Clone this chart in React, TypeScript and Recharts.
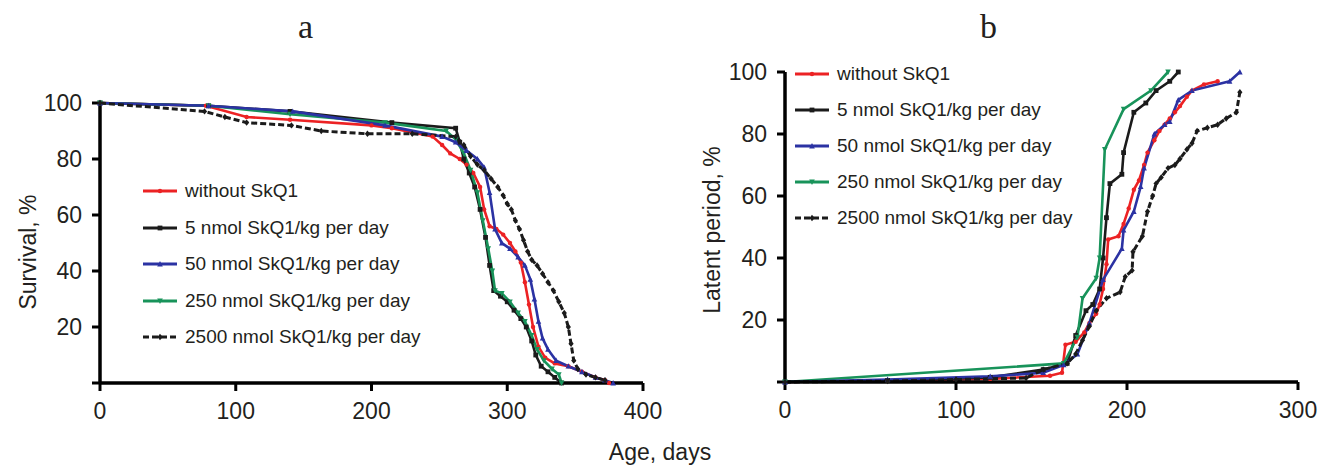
import { LineChart, Line, XAxis, YAxis } from 'recharts';

const RED = '#ec2224';
const BLACK = '#1b1b1b';
const BLUE = '#2b32a3';
const GREEN = '#18935a';
const TEXT = '#231f20';

const legendNames = [
  'without SkQ1',
  '5 nmol SkQ1/kg per day',
  '50 nmol SkQ1/kg per day',
  '250 nmol SkQ1/kg per day',
  '2500 nmol SkQ1/kg per day',
];

// panel a: survival, % vs age, days
const ctrlAge = [0, 78, 108, 140, 200, 215, 245, 252, 258, 265, 270, 275, 280, 283, 287, 292, 297, 302, 306, 310, 313, 316, 319, 323, 328, 335, 345, 355, 365, 372, 375];
const ctrlSurv = [100, 99, 95, 94, 92, 91, 88, 85, 82, 80, 78, 75, 70, 62, 56, 55, 53, 50, 47, 43, 36, 28, 20, 13, 9, 7, 6, 4, 2, 1, 0];
const d5Age = [0, 80, 140, 215, 262, 265, 268, 272, 276, 280, 284, 287, 290, 295, 300, 305, 310, 314, 318, 321, 325, 330, 335, 340];
const d5Surv = [100, 99, 97, 93, 91, 86, 80, 75, 70, 62, 52, 42, 33, 31, 29, 26, 23, 20, 15, 10, 6, 4, 2, 0];
const d50Age = [0, 80, 142, 210, 252, 262, 270, 278, 283, 287, 291, 296, 302, 308, 313, 317, 320, 323, 326, 330, 336, 345, 355, 365, 372, 378];
const d50Surv = [100, 99, 97, 92, 88, 86, 83, 80, 77, 68, 55, 50, 48, 45, 42, 37, 30, 22, 16, 12, 8, 6, 4, 2, 1, 0];
const d250Age = [0, 80, 140, 210, 255, 262, 268, 273, 278, 282, 286, 289, 291, 296, 302, 308, 313, 318, 322, 327, 333, 338, 340];
const d250Surv = [100, 99, 96, 93, 90, 87, 82, 76, 68, 58, 48, 40, 33, 32, 29, 25, 22, 17, 12, 8, 5, 3, 0];
const d2500Age = [0, 77, 92, 108, 141, 163, 197, 230, 262, 268, 273, 278, 283, 288, 293, 297, 300, 303, 306, 309, 312, 315, 318, 322, 326, 330, 334, 338, 342, 345, 347, 349, 352, 358, 365, 372];
const d2500Surv = [100, 97, 95, 93, 92, 90, 89, 89, 88, 85, 81, 78, 76, 73, 70, 67, 64, 62, 58, 55, 51, 47, 44, 42, 39, 36, 33, 29, 25, 20, 14, 8, 5, 3, 2, 1];

// panel b: latent period, % vs days
const ctrlDay = [0, 60, 120, 155, 162, 164, 170, 175, 178, 182, 184, 186, 188, 189, 195, 198, 201, 204, 207, 210, 212, 216, 219, 222, 225, 228, 231, 235, 238, 245, 253];
const ctrlLat = [0, 0.5, 1, 2, 3, 12, 13, 16, 19, 22, 25, 30, 38, 46, 47, 51, 56, 62, 65, 70, 74, 78, 81, 83, 85, 87, 89, 92, 94, 96, 97];
const l5Day = [0, 60, 120, 151, 165, 170, 176, 180, 184, 186, 188, 190, 197, 198, 204, 211, 217, 225, 230];
const l5Lat = [0, 0.5, 1.5, 4, 6, 15, 23, 25, 30, 40, 53, 64, 67, 74, 87, 90, 94, 97, 100];
const l50Day = [0, 60, 120, 151, 163, 171, 178, 186, 197, 198, 204, 208, 210, 216, 222, 225, 230, 238, 260, 266];
const l50Lat = [0, 0.8, 1.8, 3, 5.5, 9, 19, 33, 43, 49, 55, 63, 69, 80, 83, 84, 91, 94, 97, 100];
const l250Day = [0, 163, 171, 174, 182, 184, 187, 198, 214, 224];
const l250Lat = [0, 6, 14.5, 27, 33.5, 40, 75, 88, 94, 100];
const l2500Day = [0, 60, 100, 141, 151, 165, 170, 174, 178, 182, 188, 196, 199, 203, 203.5, 209, 212, 215, 217, 220, 224, 228, 231, 235, 238, 241, 247, 253, 258, 264, 266];
const l2500Lat = [0, 0.3, 0.8, 1.3, 4, 6, 9, 13.5, 18, 23, 27, 29, 34, 36, 42, 47, 55, 60, 64, 66, 69, 70, 72, 75, 77, 81, 82, 83, 85, 87, 93.5];

const toPts = (xs: number[], ys: number[]) => xs.map((x, i) => ({ x, y: ys[i] }));

type Shape = 'circle' | 'square' | 'up' | 'down' | 'diamond';

const STYLES: { color: string; shape: Shape; dash?: string; width: number }[] = [
  { color: RED, shape: 'circle', width: 2.6 },
  { color: BLACK, shape: 'square', width: 2.6 },
  { color: BLUE, shape: 'up', width: 2.6 },
  { color: GREEN, shape: 'down', width: 2.6 },
  { color: BLACK, shape: 'diamond', dash: '6 3', width: 3 },
];

const survData = [toPts(ctrlAge, ctrlSurv), toPts(d5Age, d5Surv), toPts(d50Age, d50Surv), toPts(d250Age, d250Surv), toPts(d2500Age, d2500Surv)];
const latData = [toPts(ctrlDay, ctrlLat), toPts(l5Day, l5Lat), toPts(l50Day, l50Lat), toPts(l250Day, l250Lat), toPts(l2500Day, l2500Lat)];
const drawOrder = [0, 1, 3, 2, 4];

const Marker = ({ cx, cy, shape, color }: { cx: number; cy: number; shape: Shape; color: string }) => {
  if (cx == null || cy == null) return <g />;
  const s = 2.4;
  if (shape === 'square') return <rect x={cx - s} y={cy - s} width={s * 2} height={s * 2} fill={color} />;
  if (shape === 'up') return <polygon points={`${cx},${cy - s - 0.6} ${cx - s - 0.4},${cy + s} ${cx + s + 0.4},${cy + s}`} fill={color} />;
  if (shape === 'down') return <polygon points={`${cx},${cy + s + 0.6} ${cx - s - 0.4},${cy - s} ${cx + s + 0.4},${cy - s}`} fill={color} />;
  if (shape === 'diamond') return <polygon points={`${cx},${cy - s - 0.8} ${cx + s + 0.2},${cy} ${cx},${cy + s + 0.8} ${cx - s - 0.2},${cy}`} fill={color} />;
  return <circle cx={cx} cy={cy} r={2.2} fill={color} />;
};

const tickStyle = { fontFamily: 'Liberation Sans, Arial, sans-serif', fontSize: 23, fill: TEXT };
const axisLine = { stroke: '#000', strokeWidth: 3.5 };
const tickLine = { stroke: '#000', strokeWidth: 3 };
const yFmt = (v: number) => (v === 0 ? '' : String(v));

const Panel = ({ data, xMax, xTicks, width, margin }: { data: { x: number; y: number }[][]; xMax: number; xTicks: number[]; width: number; margin: { top: number; right: number; left: number; bottom: number } }) => (
  <LineChart width={width} height={467} margin={margin}>
    <XAxis type="number" dataKey="x" domain={[0, xMax]} ticks={xTicks} height={30} tick={tickStyle} tickSize={8} tickMargin={12} axisLine={axisLine} tickLine={tickLine} allowDuplicatedCategory={false} />
    <YAxis type="number" domain={[0, 100]} ticks={[0, 20, 40, 60, 80, 100]} width={60} tick={tickStyle} tickSize={8} tickMargin={10} tickFormatter={yFmt} axisLine={axisLine} tickLine={tickLine} />
    {drawOrder.map((i) => {
      const st = STYLES[i];
      return (
        <Line
          key={i}
          data={data[i]}
          dataKey="y"
          type="linear"
          stroke={st.color}
          strokeWidth={st.width}
          strokeDasharray={st.dash}
          isAnimationActive={false}
          dot={(p: any) => <Marker key={`${i}-${p.index}`} cx={p.cx} cy={p.cy} shape={st.shape} color={st.color} />}
          activeDot={false}
        />
      );
    })}
  </LineChart>
);

const LegendBox = ({ left, top, gap }: { left: number; top: number; gap: number }) => (
  <div style={{ position: 'absolute', left, top }}>
    {legendNames.map((name, i) => {
      const st = STYLES[i];
      return (
        <div key={name} style={{ position: 'absolute', top: i * gap - 12, left: 0, display: 'flex', alignItems: 'center', whiteSpace: 'nowrap', height: 24 }}>
          <svg width={36} height={10}>
            <line x1={1} y1={5} x2={35} y2={5} stroke={st.color} strokeWidth={3} strokeDasharray={st.dash} />
            <Marker cx={18} cy={5} shape={st.shape} color={st.color} />
          </svg>
          <span style={{ marginLeft: 7, fontFamily: 'Liberation Sans, Arial, sans-serif', fontSize: 19, color: TEXT }}>{name}</span>
        </div>
      );
    })}
  </div>
);

const label = { position: 'absolute' as const, fontFamily: 'Liberation Sans, Arial, sans-serif', fontSize: 23, color: TEXT, whiteSpace: 'nowrap' as const };
const title = { position: 'absolute' as const, fontFamily: 'Liberation Serif, Times New Roman, serif', fontSize: 34, color: TEXT, lineHeight: 1 };

export default function App() {
  return (
    <div style={{ position: 'absolute', left: 0, top: 0, width: 1325, height: 467, background: '#fff', overflow: 'hidden' }}>
      <div style={{ position: 'absolute', left: 0, top: 0 }}>
        <Panel data={survData} xMax={400} xTicks={[0, 100, 200, 300, 400]} width={680} margin={{ top: 103, right: 37, left: 40, bottom: 54 }} />
      </div>
      <div style={{ position: 'absolute', left: 660, top: 0 }}>
        <Panel data={latData} xMax={300} xTicks={[0, 100, 200, 300]} width={665} margin={{ top: 72, right: 27, left: 65, bottom: 55 }} />
      </div>
      <LegendBox left={142} top={191} gap={36.5} />
      <LegendBox left={794} top={74} gap={36} />
      <div style={{ ...title, left: 298, top: 10 }}>a</div>
      <div style={{ ...title, left: 980, top: 10 }}>b</div>
      <div style={{ ...label, left: 28, top: 252, transform: 'translate(-50%, -50%) rotate(-90deg)' }}>Survival, %</div>
      <div style={{ ...label, left: 712, top: 230, transform: 'translate(-50%, -50%) rotate(-90deg)' }}>Latent period, %</div>
      <div style={{ ...label, left: 660, top: 452, transform: 'translate(-50%, -50%)' }}>Age, days</div>
    </div>
  );
}
